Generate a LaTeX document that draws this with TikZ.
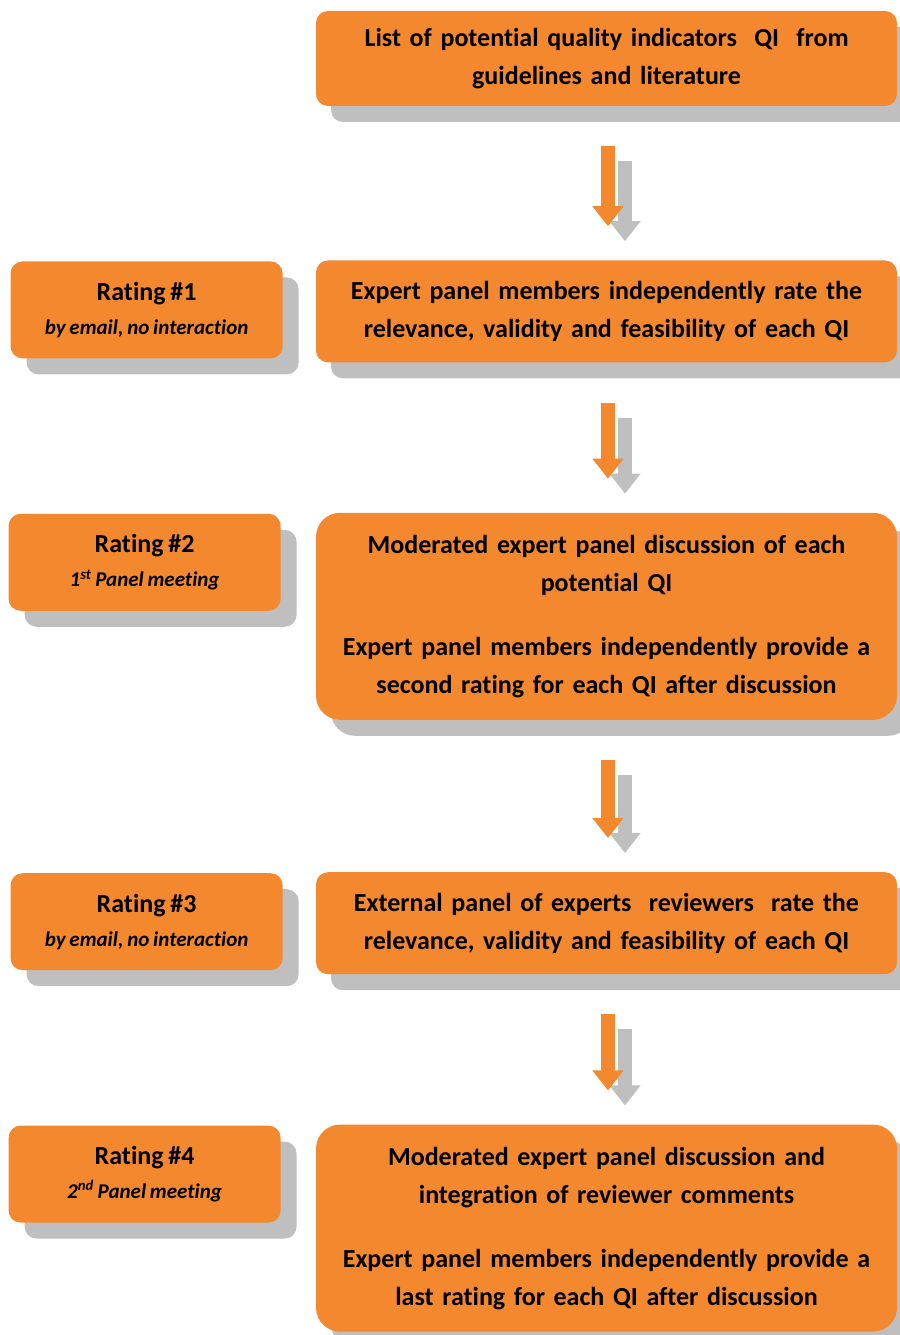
\documentclass[tikz,border=0pt]{standalone}
\usepackage{fontspec}
\setmainfont[WordSpace=0.8, Ligatures=NoCommon, RawFeature={-calt;-liga}]{Carlito}
\usetikzlibrary{arrows.meta,positioning,shadows}

\definecolor{qiorange}{RGB}{244,136,47}
\definecolor{qishade}{RGB}{191,191,191}

\newcommand{\subline}{\fontsize{21}{34}\selectfont\itshape}

\begin{document}
\begin{tikzpicture}[
  x=1pt, y=-1pt,
  node distance=150pt and 33pt,
  stage/.style={fill=qiorange, rounded corners=12pt, text width=561pt, inner xsep=10pt, align=center,
    font=\fontsize{26}{38}\selectfont\bfseries,
    general shadow={fill=qishade, shadow xshift=15pt, shadow yshift=-16pt}},
  tall/.style={stage, rounded corners=24pt, minimum height=207pt},
  rate/.style={fill=qiorange, rounded corners=12pt, minimum width=272pt, minimum height=97pt, align=center,
    font=\fontsize{26}{34}\selectfont\bfseries,
    general shadow={fill=qishade, shadow xshift=16pt, shadow yshift=-16pt}},
  flow/.style={-{Triangle[width=30pt, length=20pt]}, line width=14pt, qiorange},
  flowshade/.style={flow, qishade, transform canvas={xshift=17pt, yshift=-15pt}}
]
  \useasboundingbox (0,0) rectangle (899,1335);

  % main column
  \node[stage, minimum height=95pt] (list) at (606.5,58.5) {List of potential quality indicators~~QI~~from\\guidelines and literature};
  \node[stage, minimum height=102pt, below=154pt of list] (round1) {Expert panel members independently rate the\\relevance, validity and feasibility of each QI};
  \node[tall, below=of round1] (round2) {Moderated expert panel discussion of each\\potential QI\\[26pt]Expert panel members independently provide a\\second rating for each QI after discussion};
  \node[stage, minimum height=102pt, below=152pt of round2] (round3) {External panel of experts~~reviewers~~rate the\\relevance, validity and feasibility of each QI};
  \node[tall, below=of round3] (round4) {Moderated expert panel discussion and\\integration of reviewer comments\\[26pt]Expert panel members independently provide a\\last rating for each QI after discussion};

  % rating labels
  \node[rate, below left=1pt and 33pt of round1.north west] (rate1) {Rating \#1\\{\subline by email, no interaction}};
  \node[rate, below left=1pt and 35pt of round2.north west] (rate2) {Rating \#2\\{\subline 1\textsuperscript{st} Panel meeting}};
  \node[rate, below left=1pt and 33pt of round3.north west] (rate3) {Rating \#3\\{\subline by email, no interaction}};
  \node[rate, below left=1pt and 35pt of round4.north west] (rate4) {Rating \#4\\{\subline 2\textsuperscript{nd} Panel meeting}};

  % arrows between stages
  \foreach \a/\b in {list/round1, round1/round2, round2/round3, round3/round4} {
    \draw[flowshade] ([xshift=1.5pt, yshift=-40pt]\a.south) -- ([xshift=1.5pt, yshift=34pt]\b.north);
    \draw[flow] ([xshift=1.5pt, yshift=-40pt]\a.south) -- ([xshift=1.5pt, yshift=34pt]\b.north);
  }
\end{tikzpicture}
\end{document}
